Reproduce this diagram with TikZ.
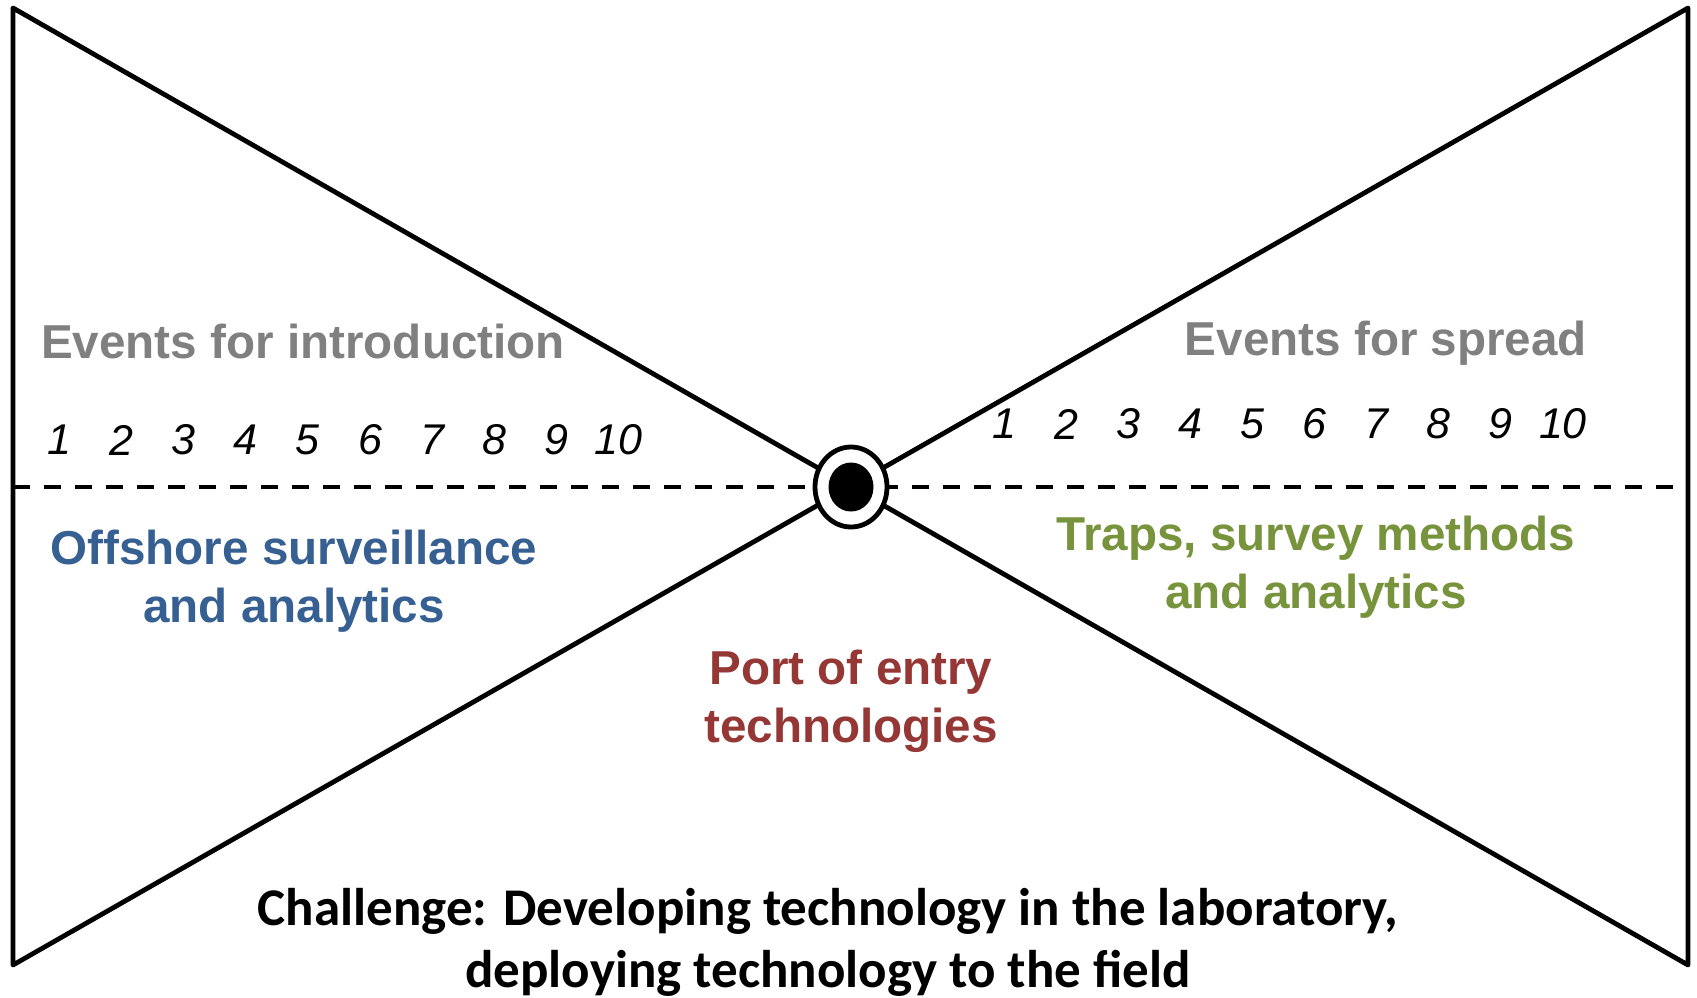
\documentclass[tikz,border=0pt]{standalone}
\usepackage{fontspec}
\setmainfont{Liberation Sans}
\newfontfamily\calib{Carlito}
\usetikzlibrary{calc, positioning}
\usetikzlibrary{shapes.geometric}
\definecolor{evgray}{HTML}{808080}
\definecolor{offblue}{HTML}{376092}
\definecolor{trapgreen}{HTML}{77933C}
\definecolor{portred}{HTML}{953735}
\def\lw{2.4pt}
\tikzset{
    bowline/.style = {
        draw, line width=\lw, line join=round
    },
    heading/.style = {
        font=\bfseries\fontsize{23.8}{29}\selectfont, text=evgray
    },
    area/.style = {
        align=center, font=\bfseries\fontsize{23.8}{29}\selectfont
    },
    eventnum/.style = {
        font=\itshape\fontsize{21.5}{24}\selectfont
    }
    }

\begin{document}
\begin{tikzpicture}[x=0.5pt, y=-0.5pt]
        \useasboundingbox (0,0) rectangle (1697,997);
        % Corners of the bow tie
        \coordinate (tl) at (13,8);
        \coordinate (tr) at (1688,8);
        \coordinate (bl) at (13,965);
        \coordinate (br) at (1688,965);
        \coordinate (dl) at (13,487);
        \coordinate (dr) at (1688,487);
        \draw[bowline] (tl) -- (br) -- (tr) -- (bl) -- cycle;
        \draw[line width=1.8pt, dash pattern=on 8.5pt off 7pt] (dl) -- (dr);
        % Knot in the middle
        \node[ellipse, draw, fill=white, line width=\lw, minimum width=36pt, minimum height=40pt, inner sep=0pt] (hub) at (851,487) {};
        \node[ellipse, fill=black, minimum width=22.5pt, minimum height=24.5pt, inner sep=0pt] (core) at (hub.center) {};
        % Headings and events
        \node[heading] (intro) at (303,341) {Events for introduction};
        \node[heading] (spread) at (1386,343) {Events for spread};
        \foreach \i in {1,...,10}{
            \node[eventnum] (l\i) at ({59+(\i-1)*62.2},440) {\i};
            \node[eventnum] (r\i) at ({1004+(\i-1)*62.1},424) {\i};
        }
        % Technologies
        \node[area, text=offblue] (offshore) at (294,581) {Offshore surveillance\\and analytics};
        \node[area, text=trapgreen] (traps) at (1316,567) {Traps, survey methods\\and analytics};
        \node[area, text=portred] (port) at (851,701) {Port of entry\\technologies};
        \node[align=center, font=\calib\bfseries\fontsize{26.5}{31}\selectfont] (challenge) at (828,942) {Challenge: Developing technology in the laboratory,\\deploying technology to the field};
    \end{tikzpicture}
\end{document}
